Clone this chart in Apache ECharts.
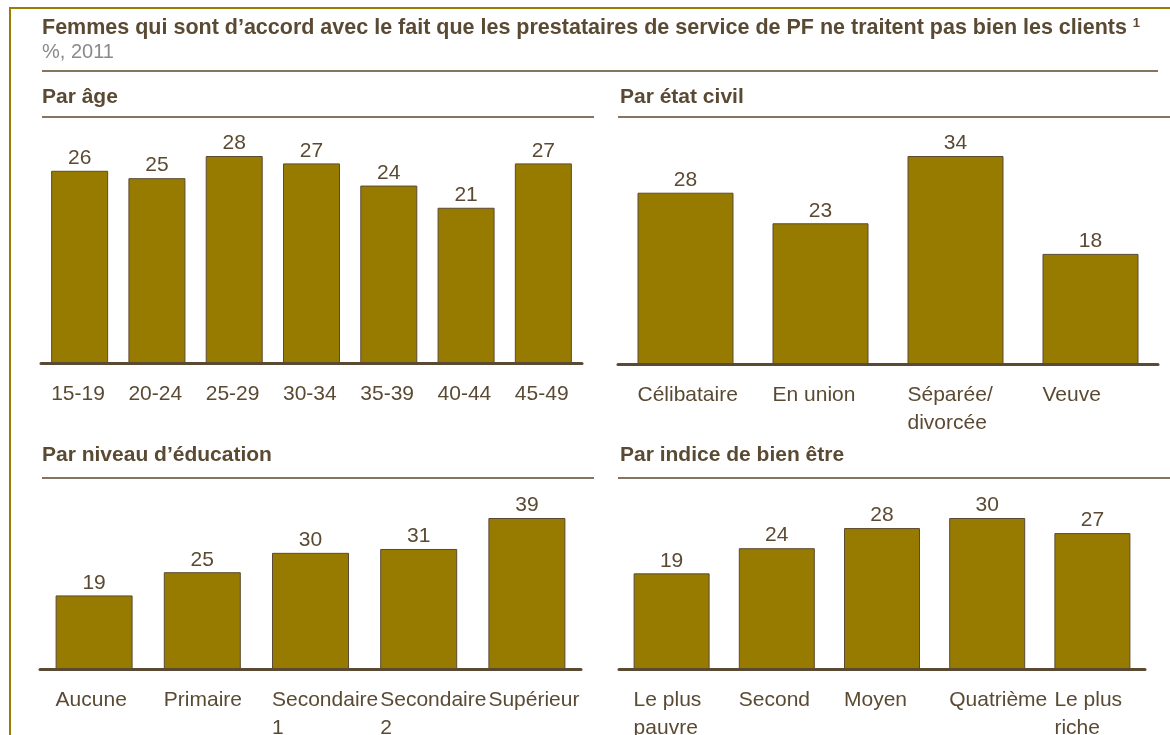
<!DOCTYPE html>
<html>
<head>
<meta charset="utf-8">
<script src="https://cdn.jsdelivr.net/npm/echarts@6/dist/echarts.min.js"></script>
<style>
  html, body { margin: 0; padding: 0; background: #fff; }
  #main { width: 1170px; height: 735px; }
</style>
</head>
<body>
<div id="main"></div>
<script>
// categories + values, one pair per panel
var ageCats = ['15-19', '20-24', '25-29', '30-34', '35-39', '40-44', '45-49'];
var ageVals = [26, 25, 28, 27, 24, 21, 27];

var civilCats = ['Célibataire', 'En union', 'Séparée/\ndivorcée', 'Veuve'];
var civilVals = [28, 23, 34, 18];

var eduCats = ['Aucune', 'Primaire', 'Secondaire\n1', 'Secondaire\n2', 'Supérieur'];
var eduVals = [19, 25, 30, 31, 39];

var wealthCats = ['Le plus\npauvre', 'Second', 'Moyen', 'Quatrième', 'Le plus\nriche'];
var wealthVals = [19, 24, 28, 30, 27];

var FONT = '"Liberation Sans", Arial, sans-serif';
var BROWN = '#5b4a33';
var BAR = '#977a00';
var RULE = '#857560';

var chart = echarts.init(document.getElementById('main'));

function xAx(idx, cats, barW) {
    return {
        type: 'category',
        gridIndex: idx,
        data: cats,
        axisTick: { show: false },
        axisLine: { lineStyle: { color: BROWN, width: 3 } },
        axisLabel: {
            interval: 0,
            hideOverlap: false,
            align: 'left',
            padding: [0, 0, 0, -barW / 2],   // shift so text starts at the bar's left edge
            margin: 17,
            lineHeight: 28,
            fontSize: 21,
            fontFamily: FONT,
            color: BROWN
        }
    };
}
function yAx(idx) {
    return {
        type: 'value',
        gridIndex: idx,
        min: 0,
        max: 'dataMax',
        show: false
    };
}
function barSeries(idx, vals, barW) {
    return {
        type: 'bar',
        xAxisIndex: idx,
        yAxisIndex: idx,
        data: vals,
        barWidth: barW,
        itemStyle: { color: BAR, borderColor: BROWN, borderWidth: 1 },
        label: {
            show: true,
            position: 'top',
            distance: 2,
            fontSize: 21,
            fontFamily: FONT,
            color: BROWN
        },
        silent: true,
        animation: false
    };
}

function header(txt, x, y) {
    return {
        text: txt, left: x, top: y, padding: 0,
        textStyle: { fontSize: 21, fontWeight: 'bold', fontFamily: FONT, color: BROWN }
    };
}

var bw = [57, 96, 77, 76];

chart.setOption({
    animation: false,
    title: [{
        text: '{t|Femmes qui sont d’accord avec le fait que les prestataires de service de PF ne traitent pas bien les clients} {s|1}',
        subtext: '%, 2011',
        left: 42,
        top: 17,
        itemGap: 3,
        padding: 0,
        textStyle: {
            fontSize: 21, fontWeight: 'bold', fontFamily: FONT, color: BROWN,
            rich: {
                t: { fontSize: 21.5, fontWeight: 'bold', fontFamily: FONT, color: BROWN },
                s: { fontSize: 13, fontWeight: 'bold', fontFamily: FONT, color: BROWN, verticalAlign: 'top' }
            }
        },
        subtextStyle: { fontSize: 20, fontFamily: FONT, color: '#8a8a8a' }
    },
        header('Par âge', 42, 87),
        header('Par état civil', 620, 87),
        header('Par niveau d’éducation', 42, 445),
        header('Par indice de bien être', 620, 445)
    ],
    graphic: [
        // outer frame (only top and left edges fall inside the window)
        { type: 'rect', shape: { x: 10, y: 8, width: 1200, height: 800 },
          style: { fill: 'none', stroke: '#9a7d00', lineWidth: 2 } },
        { type: 'line', shape: { x1: 42, y1: 71, x2: 1158, y2: 71 }, style: { stroke: RULE, lineWidth: 2 } },
        { type: 'line', shape: { x1: 42, y1: 117, x2: 594, y2: 117 }, style: { stroke: RULE, lineWidth: 2 } },
        { type: 'line', shape: { x1: 618, y1: 117, x2: 1170, y2: 117 }, style: { stroke: RULE, lineWidth: 2 } },
        { type: 'line', shape: { x1: 42, y1: 478, x2: 594, y2: 478 }, style: { stroke: RULE, lineWidth: 2 } },
        { type: 'line', shape: { x1: 618, y1: 478, x2: 1170, y2: 478 }, style: { stroke: RULE, lineWidth: 2 } }
    ],
    grid: [
        { left: 41, width: 541, top: 156, height: 207, outerBoundsMode: 'none' },
        { left: 618, width: 540, top: 156, height: 208, outerBoundsMode: 'none' },
        { left: 40, width: 541, top: 518, height: 151, outerBoundsMode: 'none' },
        { left: 619, width: 526, top: 518, height: 151, outerBoundsMode: 'none' }
    ],
    xAxis: [
        xAx(0, ageCats, bw[0]),
        xAx(1, civilCats, bw[1]),
        xAx(2, eduCats, bw[2]),
        xAx(3, wealthCats, bw[3])
    ],
    yAxis: [yAx(0), yAx(1), yAx(2), yAx(3)],
    series: [
        barSeries(0, ageVals, bw[0]),
        barSeries(1, civilVals, bw[1]),
        barSeries(2, eduVals, bw[2]),
        barSeries(3, wealthVals, bw[3])
    ]
});
</script>
</body>
</html>
